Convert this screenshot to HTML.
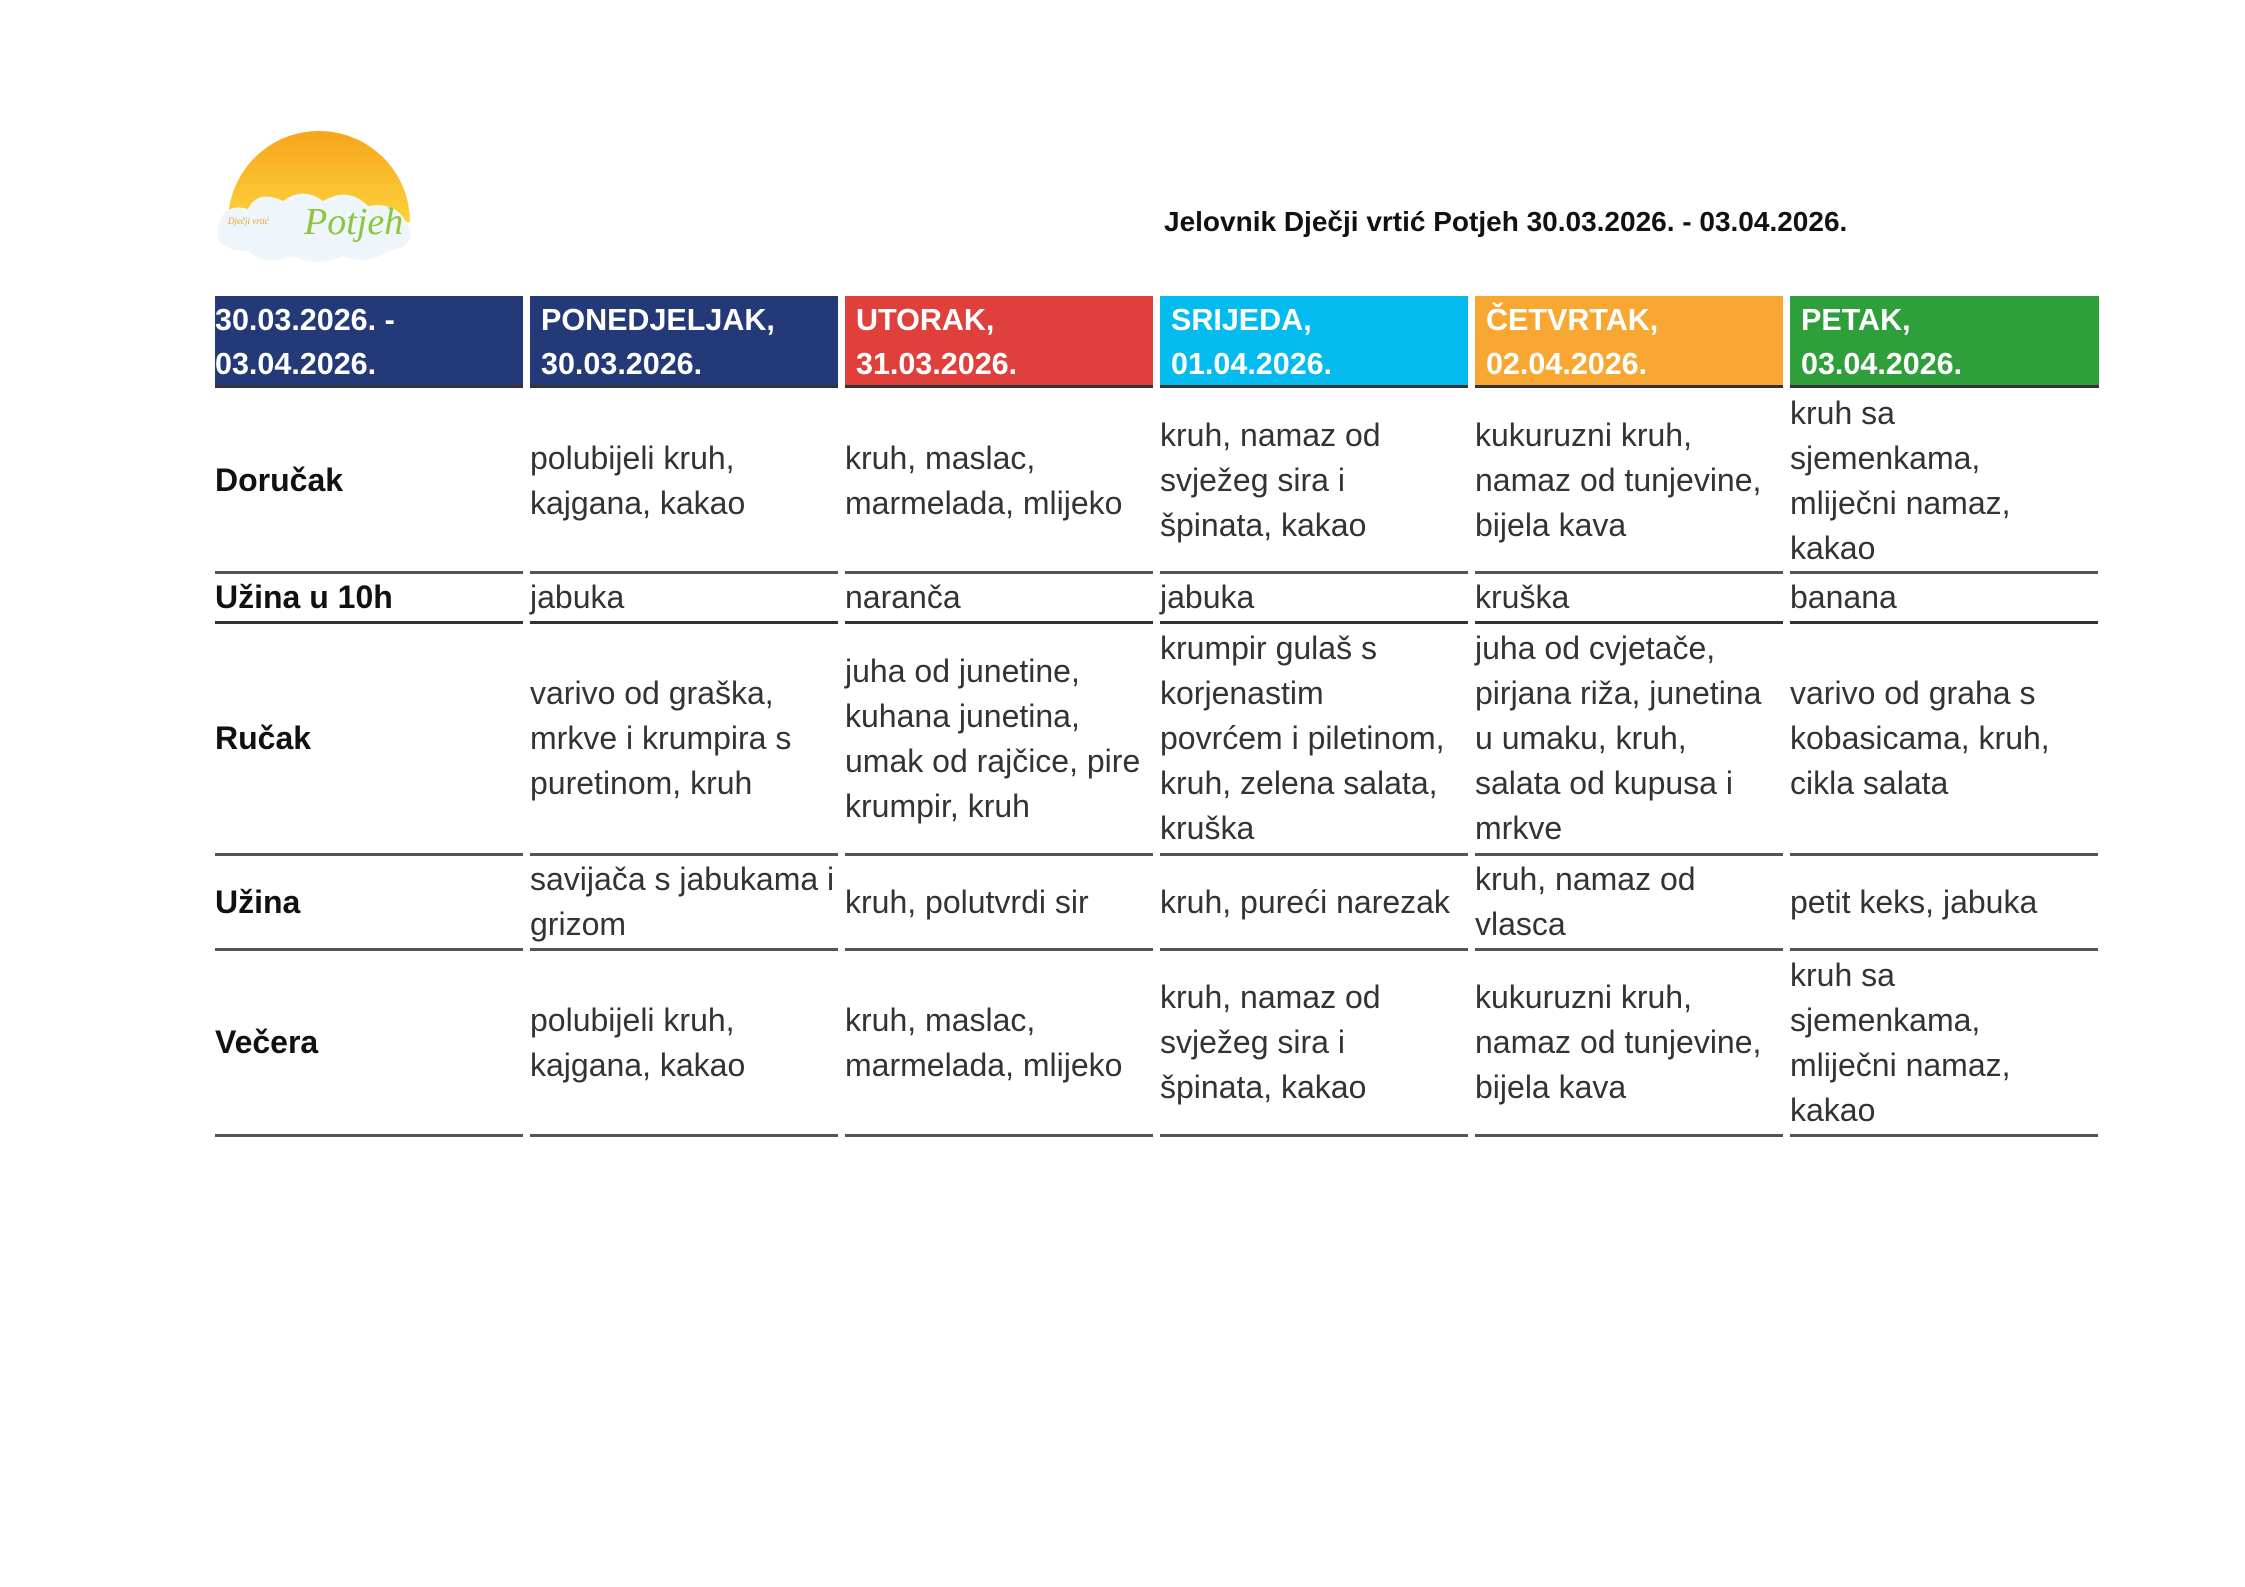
<!DOCTYPE html>
<html><head><meta charset="utf-8"><style>
body{margin:0;width:2245px;height:1587px;background:#fff;position:relative;overflow:hidden;font-family:"Liberation Sans",sans-serif}
.h{position:absolute;top:296px;color:#fff;font-weight:bold;font-size:30.5px;line-height:44px;padding-top:2px;box-sizing:border-box;height:92px;border-bottom:3px solid #333;white-space:nowrap}
.c{position:absolute;width:308px;display:flex;align-items:center;font-size:32px;line-height:45px;color:#333;white-space:nowrap;box-sizing:border-box;border-bottom:3px solid #555}
.lab{font-weight:bold;color:#111}
</style></head><body>
<svg style="position:absolute;left:212px;top:122px" width="215" height="140" viewBox="0 0 215 140">
<defs><linearGradient id="g" x1="0" y1="0" x2="0" y2="1"><stop offset="0" stop-color="#f8a51c"/><stop offset="1" stop-color="#fcd23a"/></linearGradient></defs>
<path d="M16 100 A91 91 0 0 1 198 100 Z" fill="url(#g)"/>
<path d="M6 105 q5-25 30-18 q10-20 35-8 q20-15 40 0 q25-15 45 5 q30-5 40 20 q10 20-20 25 q-20 15-45 5 q-25 12-50 0 q-30 10-45-5 q-35 0-30-24z" fill="#eef6fb"/>
<text x="16" y="102" font-size="9" fill="#e8a030" font-family="Liberation Serif,serif" font-style="italic">Dječji vrtić</text>
<text x="92" y="112" font-size="38" fill="#8cc63e" font-family="Liberation Serif,serif" font-style="italic">Potjeh</text>
</svg>
<div style="position:absolute;left:1164px;top:206px;font-size:28px;font-weight:bold;color:#111;white-space:nowrap">Jelovnik Dječji vrtić Potjeh 30.03.2026. - 03.04.2026.</div>

<div class="h" style="left:215px;width:308px;background:#243a78">30.03.2026. -<br>03.04.2026.</div>
<div class="h" style="left:530px;width:308px;background:#243a78;padding-left:11px">PONEDJELJAK,<br>30.03.2026.</div>
<div class="h" style="left:845px;width:308px;background:#e0403b;padding-left:11px">UTORAK,<br>31.03.2026.</div>
<div class="h" style="left:1160px;width:308px;background:#03bbef;padding-left:11px">SRIJEDA,<br>01.04.2026.</div>
<div class="h" style="left:1475px;width:308px;background:#f8a832;padding-left:11px">ČETVRTAK,<br>02.04.2026.</div>
<div class="h" style="left:1790px;width:309px;background:#2f9f3c;padding-left:11px">PETAK,<br>03.04.2026.</div>

<div id="grid"></div>
<script>
const xs=[215,530,845,1160,1475,1790];
const rows=[[390,574],[574,624],[624,856],[856,951],[951,1137]];
const cells=[
["Doručak","polubijeli kruh,<br>kajgana, kakao","kruh, maslac,<br>marmelada, mlijeko","kruh, namaz od<br>svježeg sira i<br>špinata, kakao","kukuruzni kruh,<br>namaz od tunjevine,<br>bijela kava","kruh sa<br>sjemenkama,<br>mliječni namaz,<br>kakao"],
["Užina u 10h","jabuka","naranča","jabuka","kruška","banana"],
["Ručak","varivo od graška,<br>mrkve i krumpira s<br>puretinom, kruh","juha od junetine,<br>kuhana junetina,<br>umak od rajčice, pire<br>krumpir, kruh","krumpir gulaš s<br>korjenastim<br>povrćem i piletinom,<br>kruh, zelena salata,<br>kruška","juha od cvjetače,<br>pirjana riža, junetina<br>u umaku, kruh,<br>salata od kupusa i<br>mrkve","varivo od graha s<br>kobasicama, kruh,<br>cikla salata"],
["Užina","savijača s jabukama i<br>grizom","kruh, polutvrdi sir","kruh, pureći narezak","kruh, namaz od<br>vlasca","petit keks, jabuka"],
["Večera","polubijeli kruh,<br>kajgana, kakao","kruh, maslac,<br>marmelada, mlijeko","kruh, namaz od<br>svježeg sira i<br>špinata, kakao","kukuruzni kruh,<br>namaz od tunjevine,<br>bijela kava","kruh sa<br>sjemenkama,<br>mliječni namaz,<br>kakao"]];
const g=document.getElementById('grid');
rows.forEach((r,i)=>{cells[i].forEach((t,j)=>{
const d=document.createElement('div');
d.className='c'+(j==0?' lab':'');


d.style.left=xs[j]+'px';d.style.top=r[0]+'px';d.style.height=(r[1]-r[0])+'px';
if(i==1){d.style.borderBottomColor='#333';}
d.innerHTML='<div>'+t+'</div>';g.appendChild(d);});});
</script>
</body></html>
